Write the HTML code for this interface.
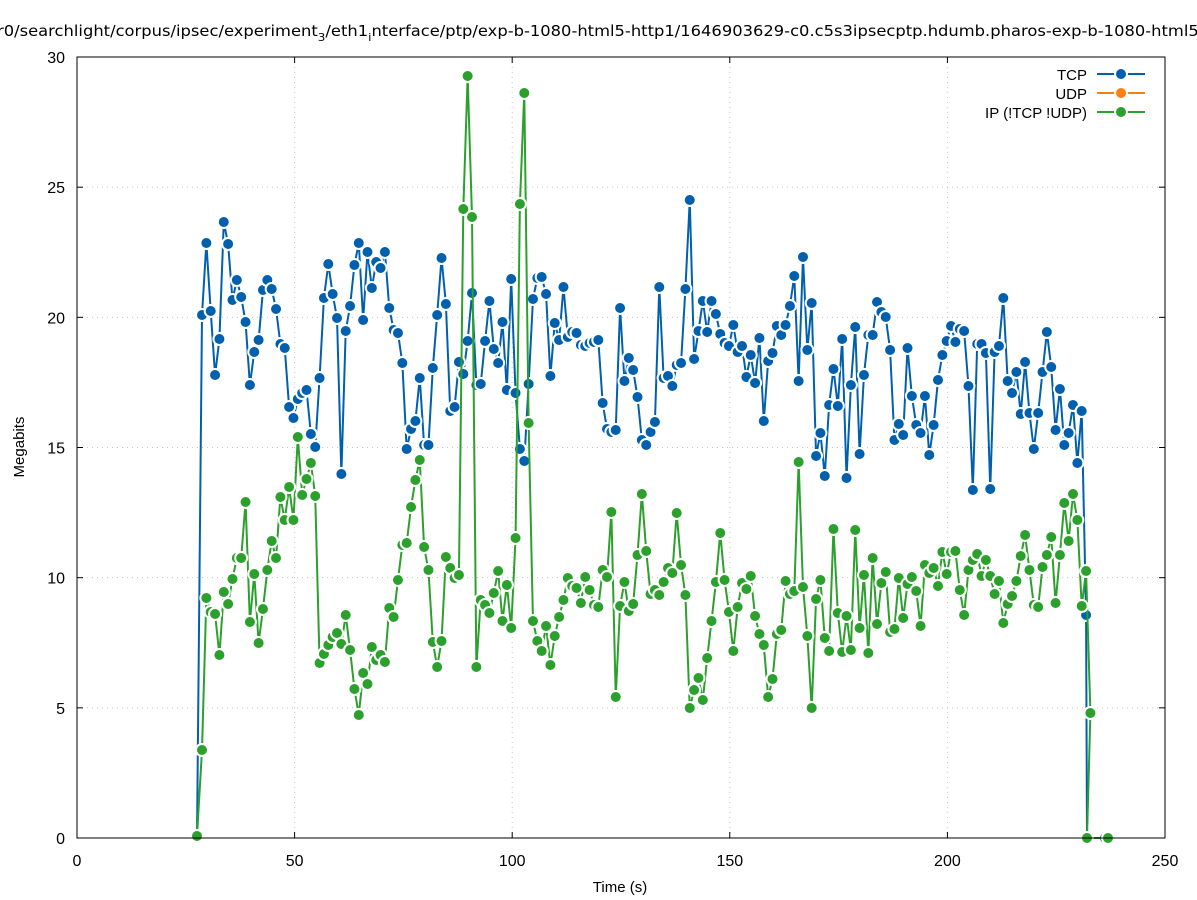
<!DOCTYPE html>
<html><head><meta charset="utf-8"><style>
html,body{margin:0;padding:0;background:#fff;}
svg{display:block;font-family:"Liberation Sans",sans-serif;}
</style></head><body>
<svg id="s" width="1197" height="900" xmlns="http://www.w3.org/2000/svg">
<rect width="1197" height="900" fill="#fff"/>
<g id="grid" stroke="#c8c8c8" stroke-width="1" stroke-dasharray="1,4"></g>
<g id="ticks" stroke="#000" stroke-width="1"></g>
<g id="labels" font-size="16" fill="#000"></g>
<text x="606" y="36" font-size="15" text-anchor="middle" textLength="1218" lengthAdjust="spacingAndGlyphs" style="font-family:'DejaVu Sans',sans-serif">r0/searchlight/corpus/ipsec/experiment<tspan font-size="11" dy="5">3</tspan><tspan dy="-5">/eth1</tspan><tspan font-size="11" dy="5">i</tspan><tspan dy="-5">nterface/ptp/exp-b-1080-html5-http1/1646903629-c0.c5s3ipsecptp.hdumb.pharos-exp-b-1080-html5-h</tspan></text>
<text x="620" y="892" font-size="15" text-anchor="middle">Time (s)</text>
<text transform="translate(24,447) rotate(-90)" font-size="15" text-anchor="middle">Megabits</text>
<g id="series"></g>
<rect x="77" y="57" width="1088" height="781" fill="none" stroke="#000" stroke-width="1"/>
<g font-size="15" text-anchor="end">
<text x="1087" y="80">TCP</text>
<text x="1087" y="99">UDP</text>
<text x="1087" y="118">IP (!TCP  !UDP)</text>
</g>
<g id="legend"></g>
</svg>
<script>
var NS="http://www.w3.org/2000/svg";
function el(p,t,a){var e=document.createElementNS(NS,t);for(var k in a)e.setAttribute(k,a[k]);p.appendChild(e);return e;}
var g=document.getElementById('grid'),tk=document.getElementById('ticks'),lb=document.getElementById('labels');
for(var i=0;i<=6;i++){var y=838-i*5*26.033;
 if(i>0&&i<6)el(g,'line',{x1:77,x2:1165,y1:y,y2:y});
 el(tk,'line',{x1:77,x2:83,y1:y,y2:y});el(tk,'line',{x1:1165,x2:1159,y1:y,y2:y});
 var t=el(lb,'text',{x:65,y:y+6,'text-anchor':'end'});t.textContent=i*5;}
for(var i=0;i<=5;i++){var x=77+i*50*4.352;
 if(i>0&&i<5)el(g,'line',{x1:x,x2:x,y1:57,y2:838});
 el(tk,'line',{x1:x,x2:x,y1:838,y2:832});el(tk,'line',{x1:x,x2:x,y1:57,y2:63});
 var t=el(lb,'text',{x:x,y:866,'text-anchor':'middle'});t.textContent=i*50;}
var X0=202,DX=4.355;
var tcp=[315,243,311,375,339,222,244,300,280,297,322,385,352,340,290,280,289,309,344,348,407,418,399,393,390,434,447,378,298,264,294,318,474,331,306,265,243,320,252,288,262,268,252,308,330,333,363,449,429,421,378,445,445,368,315,258,304,411,407,362,374,341,293,385,384,341,301,349,363,322,390,279,393,449,461,384,299,278,277,294,376,323,340,287,337,332,333,345,346,343,342,340,403,429,432,430,308,381,358,370,397,440,445,432,422,287,378,376,386,365,363,289,200,359,331,301,332,301,314,334,343,346,325,352,346,377,355,383,338,421,361,353,326,335,325,306,276,381,257,350,303,456,433,476,405,369,406,339,478,385,327,454,375,335,335,302,312,317,350,440,424,435,348,396,425,433,396,455,425,380,355,341,326,342,329,331,386,490,344,344,353,489,352,346,298,381,393,372,414,362,413,449,413,372,332,367,430,389,445,433,405,463,411,615];
var ip=[750,598,612,614,655,592,604,579,558,558,502,622,574,643,609,570,541,558,497,520,487,520,437,495,479,463,496,663,654,645,637,633,644,615,650,689,715,673,684,647,660,655,662,608,617,580,545,543,507,480,460,547,570,642,667,641,557,568,578,575,209,76,217,667,600,605,613,593,571,621,585,628,538,204,93,423,621,641,651,626,665,636,617,600,578,586,588,603,577,590,605,607,570,577,512,697,606,582,611,604,555,494,551,594,590,595,582,568,573,513,565,595,708,690,678,700,658,621,582,533,580,612,651,607,583,589,576,616,634,645,697,679,634,630,581,594,591,462,587,636,708,599,580,638,651,529,613,652,616,650,530,628,575,653,558,624,583,572,632,629,578,618,584,577,591,626,565,573,568,586,552,574,552,551,590,615,570,560,554,576,560,576,594,581,623,604,596,581,556,535,570,605,607,567,555,537,603,555,503,541,494,520,606,571,713];
var S=document.getElementById('series');
function series(arr,col,pre,post){
 var pts=pre.slice();for(var i=0;i<arr.length;i++)pts.push([X0+i*DX,arr[i]]);pts=pts.concat(post);
 el(S,'polyline',{points:pts.map(function(p){return p.join(',')}).join(' '),fill:'none',stroke:col,'stroke-width':2});
 pts.forEach(function(p){el(S,'circle',{cx:p[0],cy:p[1],r:6,fill:col,stroke:'#fff','stroke-width':2});});
}
series(tcp,'#0060ad',[[197,838]],[[1087,838],[1105,838]]);
series(ip,'#2ca02c',[[197,836]],[[1087,838],[1108,838]]);
var L=document.getElementById('legend');
[['#0060ad',74],['#ff7f0e',93],['#2ca02c',112]].forEach(function(a){
 el(L,'line',{x1:1097,x2:1145,y1:a[1],y2:a[1],stroke:a[0],'stroke-width':2});
 el(L,'circle',{cx:1121,cy:a[1],r:6,fill:a[0],stroke:'#fff','stroke-width':2});});
</script>
</body></html>
